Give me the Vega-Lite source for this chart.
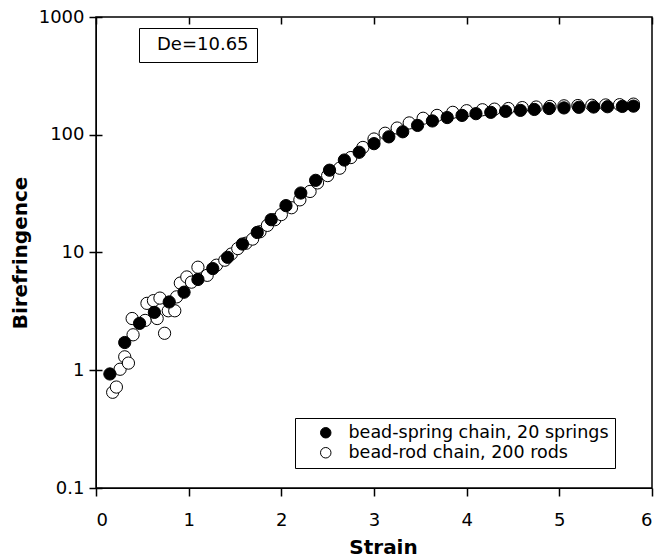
{
  "$schema": "https://vega.github.io/schema/vega-lite/v6.json",
  "width": 556,
  "height": 471,
  "autosize": "none",
  "padding": {"left": 96, "top": 17, "right": 6, "bottom": 69},
  "background": "white",
  "config": {
    "view": {"stroke": "black", "strokeWidth": 1.5},
    "font": "DejaVu Sans"
  },
  "data": {"values": [
      {"strain": 0.18, "bir": 0.65, "model": "bead-rod chain, 200 rods"},
      {"strain": 0.22, "bir": 0.72, "model": "bead-rod chain, 200 rods"},
      {"strain": 0.26, "bir": 1.02, "model": "bead-rod chain, 200 rods"},
      {"strain": 0.31, "bir": 1.3, "model": "bead-rod chain, 200 rods"},
      {"strain": 0.35, "bir": 1.15, "model": "bead-rod chain, 200 rods"},
      {"strain": 0.4, "bir": 2.0, "model": "bead-rod chain, 200 rods"},
      {"strain": 0.39, "bir": 2.75, "model": "bead-rod chain, 200 rods"},
      {"strain": 0.53, "bir": 2.65, "model": "bead-rod chain, 200 rods"},
      {"strain": 0.55, "bir": 3.7, "model": "bead-rod chain, 200 rods"},
      {"strain": 0.62, "bir": 3.9, "model": "bead-rod chain, 200 rods"},
      {"strain": 0.66, "bir": 2.75, "model": "bead-rod chain, 200 rods"},
      {"strain": 0.69, "bir": 4.1, "model": "bead-rod chain, 200 rods"},
      {"strain": 0.74, "bir": 2.06, "model": "bead-rod chain, 200 rods"},
      {"strain": 0.78, "bir": 3.2, "model": "bead-rod chain, 200 rods"},
      {"strain": 0.85, "bir": 3.2, "model": "bead-rod chain, 200 rods"},
      {"strain": 0.87, "bir": 4.2, "model": "bead-rod chain, 200 rods"},
      {"strain": 0.91, "bir": 5.5, "model": "bead-rod chain, 200 rods"},
      {"strain": 0.98, "bir": 6.2, "model": "bead-rod chain, 200 rods"},
      {"strain": 1.03, "bir": 5.6, "model": "bead-rod chain, 200 rods"},
      {"strain": 1.1, "bir": 7.5, "model": "bead-rod chain, 200 rods"},
      {"strain": 1.2, "bir": 6.4, "model": "bead-rod chain, 200 rods"},
      {"strain": 1.3, "bir": 7.8, "model": "bead-rod chain, 200 rods"},
      {"strain": 1.39, "bir": 8.6, "model": "bead-rod chain, 200 rods"},
      {"strain": 1.46, "bir": 9.7, "model": "bead-rod chain, 200 rods"},
      {"strain": 1.53, "bir": 10.8, "model": "bead-rod chain, 200 rods"},
      {"strain": 1.62, "bir": 12.0, "model": "bead-rod chain, 200 rods"},
      {"strain": 1.69, "bir": 13, "model": "bead-rod chain, 200 rods"},
      {"strain": 1.77, "bir": 15, "model": "bead-rod chain, 200 rods"},
      {"strain": 1.85, "bir": 17, "model": "bead-rod chain, 200 rods"},
      {"strain": 1.93, "bir": 19, "model": "bead-rod chain, 200 rods"},
      {"strain": 2.0, "bir": 21, "model": "bead-rod chain, 200 rods"},
      {"strain": 2.11, "bir": 24, "model": "bead-rod chain, 200 rods"},
      {"strain": 2.2, "bir": 28, "model": "bead-rod chain, 200 rods"},
      {"strain": 2.31, "bir": 33, "model": "bead-rod chain, 200 rods"},
      {"strain": 2.39, "bir": 39, "model": "bead-rod chain, 200 rods"},
      {"strain": 2.5, "bir": 45, "model": "bead-rod chain, 200 rods"},
      {"strain": 2.63, "bir": 52, "model": "bead-rod chain, 200 rods"},
      {"strain": 2.75, "bir": 64, "model": "bead-rod chain, 200 rods"},
      {"strain": 2.88, "bir": 78, "model": "bead-rod chain, 200 rods"},
      {"strain": 3.0, "bir": 92, "model": "bead-rod chain, 200 rods"},
      {"strain": 3.12, "bir": 103, "model": "bead-rod chain, 200 rods"},
      {"strain": 3.25, "bir": 114, "model": "bead-rod chain, 200 rods"},
      {"strain": 3.38, "bir": 126, "model": "bead-rod chain, 200 rods"},
      {"strain": 3.53, "bir": 138, "model": "bead-rod chain, 200 rods"},
      {"strain": 3.68, "bir": 146, "model": "bead-rod chain, 200 rods"},
      {"strain": 3.85, "bir": 155, "model": "bead-rod chain, 200 rods"},
      {"strain": 4.0, "bir": 160, "model": "bead-rod chain, 200 rods"},
      {"strain": 4.17, "bir": 163, "model": "bead-rod chain, 200 rods"},
      {"strain": 4.3, "bir": 165, "model": "bead-rod chain, 200 rods"},
      {"strain": 4.45, "bir": 167, "model": "bead-rod chain, 200 rods"},
      {"strain": 4.6, "bir": 170, "model": "bead-rod chain, 200 rods"},
      {"strain": 4.75, "bir": 172, "model": "bead-rod chain, 200 rods"},
      {"strain": 4.9, "bir": 174, "model": "bead-rod chain, 200 rods"},
      {"strain": 5.05, "bir": 176, "model": "bead-rod chain, 200 rods"},
      {"strain": 5.2, "bir": 177, "model": "bead-rod chain, 200 rods"},
      {"strain": 5.35, "bir": 178, "model": "bead-rod chain, 200 rods"},
      {"strain": 5.5, "bir": 179, "model": "bead-rod chain, 200 rods"},
      {"strain": 5.65, "bir": 180, "model": "bead-rod chain, 200 rods"},
      {"strain": 5.8, "bir": 182, "model": "bead-rod chain, 200 rods"},
      {"strain": 0.15, "bir": 0.93, "model": "bead-spring chain, 20 springs"},
      {"strain": 0.31, "bir": 1.72, "model": "bead-spring chain, 20 springs"},
      {"strain": 0.47, "bir": 2.5, "model": "bead-spring chain, 20 springs"},
      {"strain": 0.63, "bir": 3.1, "model": "bead-spring chain, 20 springs"},
      {"strain": 0.79, "bir": 3.8, "model": "bead-spring chain, 20 springs"},
      {"strain": 0.95, "bir": 4.6, "model": "bead-spring chain, 20 springs"},
      {"strain": 1.1, "bir": 5.9, "model": "bead-spring chain, 20 springs"},
      {"strain": 1.26, "bir": 7.3, "model": "bead-spring chain, 20 springs"},
      {"strain": 1.42, "bir": 9.1, "model": "bead-spring chain, 20 springs"},
      {"strain": 1.58, "bir": 11.8, "model": "bead-spring chain, 20 springs"},
      {"strain": 1.74, "bir": 14.8, "model": "bead-spring chain, 20 springs"},
      {"strain": 1.89, "bir": 19, "model": "bead-spring chain, 20 springs"},
      {"strain": 2.05, "bir": 25, "model": "bead-spring chain, 20 springs"},
      {"strain": 2.21, "bir": 32, "model": "bead-spring chain, 20 springs"},
      {"strain": 2.37, "bir": 41, "model": "bead-spring chain, 20 springs"},
      {"strain": 2.52, "bir": 50, "model": "bead-spring chain, 20 springs"},
      {"strain": 2.68, "bir": 61, "model": "bead-spring chain, 20 springs"},
      {"strain": 2.84, "bir": 71, "model": "bead-spring chain, 20 springs"},
      {"strain": 3.0, "bir": 84, "model": "bead-spring chain, 20 springs"},
      {"strain": 3.16, "bir": 96, "model": "bead-spring chain, 20 springs"},
      {"strain": 3.31, "bir": 106, "model": "bead-spring chain, 20 springs"},
      {"strain": 3.47, "bir": 120, "model": "bead-spring chain, 20 springs"},
      {"strain": 3.63, "bir": 131, "model": "bead-spring chain, 20 springs"},
      {"strain": 3.79, "bir": 140, "model": "bead-spring chain, 20 springs"},
      {"strain": 3.95, "bir": 146, "model": "bead-spring chain, 20 springs"},
      {"strain": 4.1, "bir": 151, "model": "bead-spring chain, 20 springs"},
      {"strain": 4.26, "bir": 155, "model": "bead-spring chain, 20 springs"},
      {"strain": 4.42, "bir": 158, "model": "bead-spring chain, 20 springs"},
      {"strain": 4.58, "bir": 161, "model": "bead-spring chain, 20 springs"},
      {"strain": 4.73, "bir": 164, "model": "bead-spring chain, 20 springs"},
      {"strain": 4.89, "bir": 167, "model": "bead-spring chain, 20 springs"},
      {"strain": 5.05, "bir": 169, "model": "bead-spring chain, 20 springs"},
      {"strain": 5.21, "bir": 171, "model": "bead-spring chain, 20 springs"},
      {"strain": 5.37, "bir": 172, "model": "bead-spring chain, 20 springs"},
      {"strain": 5.52, "bir": 173, "model": "bead-spring chain, 20 springs"},
      {"strain": 5.68, "bir": 174, "model": "bead-spring chain, 20 springs"},
      {"strain": 5.8, "bir": 175, "model": "bead-spring chain, 20 springs"}
  ]},
  "mark": {"type": "point", "filled": true, "stroke": "black", "strokeWidth": 1, "size": 150},
  "encoding": {
    "x": {
      "field": "strain", "type": "quantitative",
      "scale": {"domain": [0, 6], "nice": false, "zero": false},
      "axis": {
        "values": [0, 1, 2, 3, 4, 5, 6],
        "format": "d",
        "domain": true, "domainColor": "#000000",
        "tickSize": 8, "tickColor": "#000000", "tickWidth": 1.5,
        "grid": true, "gridColor": "#000000", "gridDash": [7, 2000], "gridWidth": 1.5,
        "labelFontSize": 18, "labelColor": "#000000", "labelPadding": 15,
        "title": "Strain", "titleFontSize": 20, "titleFontWeight": "bold", "titleColor": "#000000", "titlePadding": 8, "titleX": 287
      }
    },
    "y": {
      "field": "bir", "type": "quantitative",
      "scale": {"type": "log", "domain": [0.1, 1000], "nice": false},
      "axis": {
        "values": [0.1, 1, 10, 100, 1000],
        "format": "~g",
        "domain": true, "domainColor": "#000000",
        "tickSize": 7, "tickColor": "#000000", "tickWidth": 1.5,
        "grid": true, "gridColor": "#000000", "gridDash": [6, 2000], "gridWidth": 1.5,
        "labelFontSize": 18, "labelColor": "#000000", "labelPadding": 5,
        "title": "Birefringence", "titleFontSize": 20, "titleFontWeight": "bold", "titleColor": "#000000", "titlePadding": 8
      }
    },
    "fill": {
      "field": "model", "type": "nominal",
      "scale": {"domain": ["bead-spring chain, 20 springs", "bead-rod chain, 200 rods"], "range": ["black", "white"]},
      "legend": {
        "title": null, "orient": "none", "legendX": 199, "legendY": 401,
        "strokeColor": "black", "fillColor": "white", "padding": 6,
        "symbolType": "circle", "symbolSize": 110, "symbolStrokeColor": "black", "symbolStrokeWidth": 1, "symbolOpacity": 1,
        "symbolOffset": 16, "labelOffset": 14, "labelFontSize": 17.5, "labelColor": "black", "labelLimit": 500, "rowPadding": 1
      }
    },
    "opacity": {
      "datum": "De=10.65", "type": "nominal",
      "scale": {"range": [1]},
      "legend": {
        "title": null, "orient": "none", "legendX": 43, "legendY": 11,
        "strokeColor": "black", "fillColor": "white", "padding": 8,
        "symbolSize": 0, "symbolOpacity": 0, "symbolStrokeWidth": 0, "symbolOffset": -8, "labelOffset": 0,
        "labelFontSize": 18, "labelColor": "black", "labelLimit": 500
      }
    }
  }
}
